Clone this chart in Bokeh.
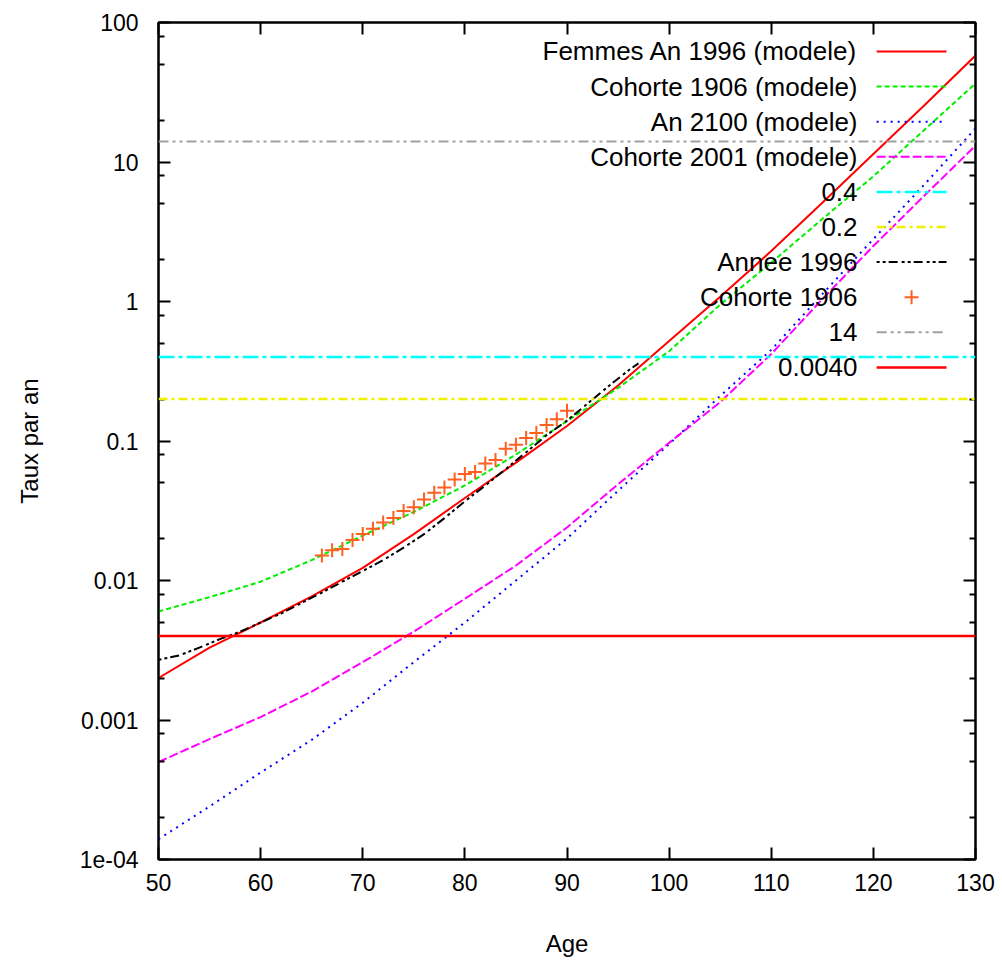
import numpy as np
from bokeh.plotting import figure
from bokeh.models import LogAxis, LinearAxis, FixedTicker, Range1d, Span
from bokeh.embed import file_html
from bokeh.resources import INLINE
from bokeh.core.properties import value

# ---------------- data ----------------
ages = [50, 55, 60, 65, 70, 75, 80, 85, 90, 95, 100, 105, 110, 115, 120, 125, 130]
femmes_1996_modele = [0.0020, 0.0033, 0.0050, 0.0077, 0.0123, 0.0215, 0.039, 0.070, 0.128,
                      0.25, 0.52, 1.08, 2.3, 5.1, 11.4, 25.5, 58]
cohorte_1906_modele = [0.0060, 0.0076, 0.0098, 0.0140, 0.021, 0.031, 0.048, 0.080, 0.139,
                       0.24, 0.44, 0.95, 1.9, 3.9, 7.9, 17, 36.6]
an_2100_modele = [0.00014, 0.00024, 0.00042, 0.00072, 0.00133, 0.0026, 0.0050, 0.0100, 0.020,
                  0.044, 0.095, 0.21, 0.45, 1.13, 2.8, 6.9, 17.4]
cohorte_2001_modele = [0.00050, 0.00073, 0.00105, 0.00160, 0.0026, 0.0043, 0.0074, 0.0128, 0.024,
                       0.049, 0.097, 0.19, 0.42, 1.04, 2.5, 5.75, 13.1]

annee_1996_ages = [50, 52, 54, 56, 58, 60, 62, 64, 66, 68, 70, 72, 74, 76, 78, 80, 82, 84,
                   86, 88, 90, 92, 94, 96, 97]
annee_1996 = [0.0027, 0.0029, 0.0033, 0.0038, 0.0043, 0.0050, 0.0058, 0.0069, 0.0082, 0.0098,
              0.0117, 0.0140, 0.0172, 0.0215, 0.028, 0.037, 0.048, 0.063, 0.083, 0.110, 0.140,
              0.185, 0.245, 0.32, 0.36]

cohorte_1906_ages = list(range(66, 91))
cohorte_1906 = [0.0151, 0.0165, 0.0168, 0.0195, 0.0215, 0.0235, 0.026, 0.028, 0.0315, 0.0335,
                0.038, 0.0425, 0.0465, 0.053, 0.058, 0.060, 0.069, 0.073, 0.088, 0.094, 0.105,
                0.114, 0.13, 0.143, 0.165]

levels = {"0.4": 0.4, "0.2": 0.2, "14": 14.0, "0.0040": 0.0040}

x_ticks = [50, 60, 70, 80, 90, 100, 110, 120, 130]
y_ticks = [1e-4, 1e-3, 1e-2, 1e-1, 1, 10, 100]
y_tick_labels = ["1e-04", "0.001", "0.01", "0.1", "1", "10", "100"]

legend_labels = ["Femmes An 1996 (modele)", "Cohorte 1906 (modele)", "An 2100 (modele)",
                 "Cohorte 2001 (modele)", "0.4", "0.2", "Annee 1996", "Cohorte 1906", "14", "0.0040"]

# ---------------- styles ----------------
FONT = "Liberation Sans"
st = {
    "Femmes An 1996 (modele)": dict(color="#ff0000", dash="solid", width=2),
    "Cohorte 1906 (modele)": dict(color="#00ee00", dash="5 3", width=2),
    "An 2100 (modele)": dict(color="#0000ff", dash="2 5", width=2),
    "Cohorte 2001 (modele)": dict(color="#ff00ff", dash="9 3", width=2),
    "0.4": dict(color="#00ffff", dash="16 4 4 4", width=2.5),
    "0.2": dict(color="#f0f000", dash="9 4 3 4", width=2.5),
    "Annee 1996": dict(color="#000000", dash="3 3 3 3 9 4", width=2),
    "14": dict(color="#a0a0a0", dash="10 4 3 4 3 4", width=2),
    "0.0040": dict(color="#ff0000", dash="solid", width=2.5),
}
plus_color = "#ff6020"

X0, X1 = 50, 130
Y0, Y1 = 1e-4, 100

p = figure(width=1000, height=962, x_axis_type="linear", y_axis_type="log",
           x_range=Range1d(X0, X1), y_range=Range1d(Y0, Y1),
           output_backend="svg", toolbar_location=None,
           min_border_left=158, min_border_right=25, min_border_top=22, min_border_bottom=103)
p.grid.visible = False
p.outline_line_color = "black"
p.outline_line_width = 2
p.background_fill_color = "white"
p.border_fill_color = "white"

yticker = FixedTicker(ticks=y_ticks,
                      minor_ticks=[m * 10.0 ** k for k in range(-4, 2) for m in (2, 5, 8)])
xticker = FixedTicker(ticks=x_ticks, minor_ticks=[])

def style_axis(ax, labels=True):
    ax.axis_line_color = "black"
    ax.axis_line_width = 2
    ax.major_tick_in = 12
    ax.major_tick_out = 0
    ax.minor_tick_in = 6
    ax.minor_tick_out = 0
    ax.major_tick_line_width = 2
    ax.minor_tick_line_width = 2
    ax.major_tick_line_color = "black"
    ax.minor_tick_line_color = "black"
    if labels:
        ax.major_label_text_font = FONT
        ax.major_label_text_font_size = "23px"
        ax.major_label_text_color = "black"
        ax.axis_label_text_font = FONT
        ax.axis_label_text_font_size = "24px"
        ax.axis_label_text_font_style = "normal"
        ax.axis_label_text_color = "black"
    else:
        ax.major_label_text_font_size = "1px"
        ax.major_label_text_color = None
        ax.major_label_standoff = 0

yax = p.yaxis[0]
yax.ticker = yticker
yax.major_label_overrides = {t: l for t, l in zip(y_ticks, y_tick_labels)}
yax.axis_label = "Taux par an"
yax.major_label_standoff = 20
yax.axis_label_standoff = 34
style_axis(yax)

xax = p.xaxis[0]
xax.ticker = xticker
xax.axis_label = "Age"
xax.major_label_standoff = 14
xax.axis_label_standoff = 36
style_axis(xax)

rax = LogAxis(ticker=yticker)
style_axis(rax, labels=False)
p.add_layout(rax, "right")
tax = LinearAxis(ticker=xticker)
style_axis(tax, labels=False)
p.add_layout(tax, "above")

# horizontal levels
for name, v in levels.items():
    s = st[name]
    p.add_layout(Span(location=v, dimension="width", line_color=s["color"],
                      line_dash=s["dash"], line_width=s["width"]))

# model curves
for name, ys in [("Femmes An 1996 (modele)", femmes_1996_modele),
                 ("Cohorte 1906 (modele)", cohorte_1906_modele),
                 ("An 2100 (modele)", an_2100_modele),
                 ("Cohorte 2001 (modele)", cohorte_2001_modele)]:
    s = st[name]
    p.line(ages, ys, line_color=s["color"], line_dash=s["dash"], line_width=s["width"])

s = st["Annee 1996"]
p.line(annee_1996_ages, annee_1996, line_color=s["color"], line_dash=s["dash"], line_width=s["width"])

p.scatter(cohorte_1906_ages, cohorte_1906, marker="cross", size=14, line_color=plus_color,
          line_width=2)

# ---------------- key (gnuplot style: text right, sample left of border) ----------------
def fx(f):
    return X0 + (X1 - X0) * f

def fy(f):
    lo, hi = np.log10(Y0), np.log10(Y1)
    return 10 ** (hi - (hi - lo) * f)

text_right = fx(0.8556)
samp0, samp1 = fx(0.879), fx(0.9645)
row0, drow = 0.0346, 0.04194
for i, lab in enumerate(legend_labels):
    yy = fy(row0 + drow * i)
    p.text(x=[text_right], y=[yy], text=[lab], text_align="right", text_baseline="middle",
           text_font=value(FONT), text_font_size="26px", text_color="black")
    if lab == "Cohorte 1906":
        p.scatter(x=[(samp0 + samp1) / 2], y=[yy], marker="cross", size=14,
                  line_color=plus_color, line_width=2)
    else:
        s = st[lab]
        p.line(x=[samp0, samp1], y=[yy, yy], line_color=s["color"], line_dash=s["dash"],
               line_width=s["width"])

open("out.html", "w").write(file_html(p, INLINE))
